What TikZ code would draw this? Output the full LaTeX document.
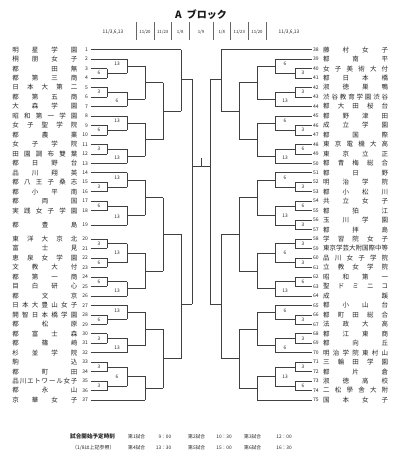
\documentclass[tikz,border=0pt]{standalone}
\usepackage{fontspec}
\setmainfont{Noto Sans CJK JP}
\newcommand\sprA[1]{\ifx#1\relax\else#1\expandafter\sprB\fi}
\newcommand\sprB[1]{\ifx#1\relax\else\hfill#1\expandafter\sprB\fi}
\newcommand\spr[1]{\sprA#1\relax}
\newcount\lbn
\tikzset{
 br/.style={draw=black!75, line width=0.5pt},
 nm/.style={inner sep=0pt, font=\fontsize{6.5}{7}\selectfont, text=black!85},
 no/.style={inner sep=0pt, font=\fontsize{5}{6}\selectfont, text=black!85},
 lab/.style={inner sep=0pt, font=\fontsize{4.8}{5}\selectfont, text=black!85},
 dt/.style={inner sep=0pt, font=\fontsize{4.3}{5}\selectfont, text=black!85},
 ft/.style={inner sep=0pt, font=\fontsize{4.8}{5}\selectfont, text=black!85, anchor=west},
}
\newcommand\tL[4]{%
 \node[no,anchor=east] (nL#1) at (88,{ry(#2)}) {#1};
 \node[nm,anchor=west] (tL#1) at (12.3,{ry(#2)}) {\hbox to 65pt{\spr{#4}}};
 \draw[br] (90.5,{ry(#2)}) -- (#3,{ry(#2)});
}
\newcommand\tR[4]{%
 \node[no,anchor=west] (nR#1) at (313,{ry(#2)}) {#1};
 \node[nm,anchor=west] (tR#1) at (323,{ry(#2)}) {\hbox to 65pt{\spr{#4}}};
 \draw[br] (311.5,{ry(#2)}) -- (#3,{ry(#2)});
}
\newcommand\mt[5]{\draw[br] (#1,{ry(#2)}) -- (#1,{ry(#3)}) (#1,{ry(#4)}) -- (#5,{ry(#4)});}
\begin{document}
\begin{tikzpicture}[x=1pt,y=-1pt,declare function={ry(\r)=49.6+9.47*\r;}]
\path[use as bounding box, fill=white] (0,0) rectangle (400,471);
% title and header
\node[inner sep=0pt, font=\bfseries\fontsize{10}{11}\selectfont, text=black!90] (title) at (201,15) {A\hspace{5pt}ブロック};
\foreach \x [count=\i] in {136,154,171.5,189,213,230.5,248,266}
  \draw[black!60, line width=0.4pt] (\x,22) -- (\x,40);
\node[dt, font=\fontsize{4.8}{5}\selectfont] (dL0) at (113,31.7) {11/3,6,13};
\node[dt] (dL3) at (145,31.7) {11/20};
\node[dt] (dL4) at (162.7,31.7) {11/23};
\node[dt] (dL5) at (180.2,31.7) {1/8};
\node[dt] (dC) at (201,31.7) {1/9};
\node[dt] (dR5) at (221.8,31.7) {1/8};
\node[dt] (dR4) at (239.3,31.7) {11/23};
\node[dt] (dR3) at (257,31.7) {11/20};
\node[dt, font=\fontsize{4.8}{5}\selectfont] (dR0) at (289,31.7) {11/3,6,13};
% left teams
\tL{1}{0}{181}{明星学園}
\tL{2}{1}{127}{桐朋女子}
\tL{3}{2}{107}{都　田無}
\tL{4}{3}{107}{都第三商}
\tL{5}{4}{107}{日本大第二}
\tL{6}{5}{107}{都第五商}
\tL{7}{6}{127}{大森学園}
\tL{8}{7}{127}{昭和第一学園}
\tL{9}{8}{107}{女子聖学院}
\tL{10}{9}{107}{都農業}
\tL{11}{10}{107}{女子学院}
\tL{12}{11}{107}{田園調布雙葉}
\tL{13}{12}{127}{都日野台}
\tL{14}{13}{127}{品川翔英}
\tL{15}{14}{107}{都八王子桑志}
\tL{16}{15}{107}{都小平南}
\tL{17}{16}{107}{都両国}
\tL{18}{17}{107}{実践女子学園}
\tL{19}{18.5}{127}{都豊島}
\tL{20}{20}{107}{東洋大京北}
\tL{21}{21}{107}{富士見}
\tL{22}{22}{107}{恵泉女学園}
\tL{23}{23}{107}{文教大付}
\tL{24}{24}{107}{都第一商}
\tL{25}{25}{107}{目白研心}
\tL{26}{26}{127}{都文京}
\tL{27}{27}{127}{日本大豊山女子}
\tL{28}{28}{107}{開智日本橋学園}
\tL{29}{29}{107}{都松原}
\tL{30}{30}{107}{都富士森}
\tL{31}{31}{107}{都篠崎}
\tL{32}{32}{127}{杉並学院}
\tL{33}{33}{107}{駒込}
\tL{34}{34}{107}{都町田}
\tL{35}{35}{107}{品川エトワール女子}
\tL{36}{36}{107}{都永山}
\tL{37}{37}{145}{京華女子}
% right teams
\tR{38}{0}{221}{藤村女子}
\tR{39}{1}{275}{都南平}
\tR{40}{2}{295}{女子美術大付}
\tR{41}{3}{295}{都日本橋}
\tR{42}{4}{295}{淑徳巣鴨}
\tR{43}{5}{295}{渋谷教育学園渋谷}
\tR{44}{6}{275}{都大田桜台}
\tR{45}{7}{275}{都野津田}
\tR{46}{8}{295}{成立学園}
\tR{47}{9}{295}{都国際}
\tR{48}{10}{295}{東京電機大高}
\tR{49}{11}{295}{東京立正}
\tR{50}{12}{275}{都青梅総合}
\tR{51}{13}{275}{都日野}
\tR{52}{14}{295}{明治学院}
\tR{53}{15}{295}{都小松川}
\tR{54}{16}{295}{共立女子}
\tR{55}{17}{295}{都狛江}
\tR{56}{18}{295}{玉川学園}
\tR{57}{19}{295}{都拝島}
\tR{58}{20}{295}{学習院女子}
\tR{59}{21}{295}{東京学芸大附国際中等}
\tR{60}{22}{295}{品川女子学院}
\tR{61}{23}{295}{立教女学院}
\tR{62}{24}{295}{昭和第一}
\tR{63}{25}{295}{聖ドミニコ}
\tR{64}{26}{275}{成蹊}
\tR{65}{27}{275}{都小山台}
\tR{66}{28}{295}{都町田総合}
\tR{67}{29}{295}{法政大高}
\tR{68}{30}{295}{都江東商}
\tR{69}{31}{295}{都向丘}
\tR{70}{32}{275}{明治学院東村山}
\tR{71}{33}{295}{三輪田学園}
\tR{72}{34}{295}{都片倉}
\tR{73}{35}{295}{淑徳高校}
\tR{74}{36}{295}{二松學舎大附}
\tR{75}{37}{257}{国本女子}
% left matches
\mt{107}{2}{3}{2.5}{127}
\mt{127}{1}{2.5}{1.75}{145}
\mt{107}{4}{5}{4.5}{127}
\mt{127}{4.5}{6}{5.25}{145}
\mt{145}{1.75}{5.25}{3.5}{163}
\mt{107}{8}{9}{8.5}{127}
\mt{127}{7}{8.5}{7.75}{145}
\mt{107}{10}{11}{10.5}{127}
\mt{127}{10.5}{12}{11.25}{145}
\mt{145}{7.75}{11.25}{9.5}{163}
\mt{163}{3.5}{9.5}{6.5}{181}
\mt{181}{0}{6.5}{3.1}{192}
\mt{107}{14}{15}{14.5}{127}
\mt{127}{13}{14.5}{13.75}{145}
\mt{107}{16}{17}{16.5}{127}
\mt{127}{16.5}{18.5}{17.5}{145}
\mt{145}{13.75}{17.5}{15.625}{163}
\mt{107}{20}{21}{20.5}{127}
\mt{107}{22}{23}{22.5}{127}
\mt{127}{20.5}{22.5}{21.5}{145}
\mt{107}{24}{25}{24.5}{127}
\mt{127}{24.5}{26}{25.25}{145}
\mt{145}{21.5}{25.25}{23.375}{163}
\mt{163}{15.625}{23.375}{19.5}{181}
\mt{107}{28}{29}{28.5}{127}
\mt{127}{27}{28.5}{27.75}{145}
\mt{107}{30}{31}{30.5}{127}
\mt{127}{30.5}{32}{31.25}{145}
\mt{145}{27.75}{31.25}{29.5}{163}
\mt{107}{33}{34}{33.5}{127}
\mt{107}{35}{36}{35.5}{127}
\mt{127}{33.5}{35.5}{34.5}{145}
\mt{145}{34.5}{37}{35.75}{163}
\mt{163}{29.5}{35.75}{32.625}{181}
\mt{181}{19.5}{32.625}{26.86}{192}
\mt{192}{3.1}{26.86}{12.37}{201}
% right matches
\mt{295}{2}{3}{2.5}{275}
\mt{275}{1}{2.5}{1.75}{257}
\mt{295}{4}{5}{4.5}{275}
\mt{275}{4.5}{6}{5.25}{257}
\mt{257}{1.75}{5.25}{3.5}{239}
\mt{295}{8}{9}{8.5}{275}
\mt{275}{7}{8.5}{7.75}{257}
\mt{295}{10}{11}{10.5}{275}
\mt{275}{10.5}{12}{11.25}{257}
\mt{257}{7.75}{11.25}{9.5}{239}
\mt{239}{3.5}{9.5}{6.5}{221}
\mt{221}{0}{6.5}{3.1}{210}
\mt{295}{14}{15}{14.5}{275}
\mt{275}{13}{14.5}{13.75}{257}
\mt{295}{16}{17}{16.5}{275}
\mt{295}{18}{19}{18.5}{275}
\mt{275}{16.5}{18.5}{17.5}{257}
\mt{257}{13.75}{17.5}{15.625}{239}
\mt{295}{20}{21}{20.5}{275}
\mt{295}{22}{23}{22.5}{275}
\mt{275}{20.5}{22.5}{21.5}{257}
\mt{295}{24}{25}{24.5}{275}
\mt{275}{24.5}{26}{25.25}{257}
\mt{257}{21.5}{25.25}{23.375}{239}
\mt{239}{15.625}{23.375}{19.5}{221}
\mt{295}{28}{29}{28.5}{275}
\mt{275}{27}{28.5}{27.75}{257}
\mt{295}{30}{31}{30.5}{275}
\mt{275}{30.5}{32}{31.25}{257}
\mt{257}{27.75}{31.25}{29.5}{239}
\mt{295}{33}{34}{33.5}{275}
\mt{295}{35}{36}{35.5}{275}
\mt{275}{33.5}{35.5}{34.5}{257}
\mt{257}{34.5}{37}{35.75}{239}
\mt{239}{29.5}{35.75}{32.625}{221}
\mt{221}{19.5}{32.625}{26.86}{210}
\mt{210}{3.1}{26.86}{12.37}{201}
% final tick
\coordinate (fin) at (201,{ry(12.37)});
\draw[br] (fin) -- ++(0,-8.5);
% left labels
\foreach \r/\t [count=\i] in {2.5/6,4.5/3,8.5/6,10.5/3,14.5/3,16.5/6,20.5/3,22.5/6,24.5/6,28.5/6,30.5/3,33.5/3,35.5/3}
  \node[lab] (la\i) at (99,{ry(\r)}) {\t};
\foreach \r/\t [count=\i] in {1.55/13,5.45/6,7.55/13,11.45/13,13.55/13,17.7/13,21.5/13,25.45/13,27.55/13,31.45/13,34.5/6}
  \node[lab] (lb\i) at (117,{ry(\r)}) {\t};
% right labels
\foreach \r/\t [count=\i] in {2.5/3,4.5/3,8.5/3,10.5/6,14.5/3,16.5/6,18.5/3,20.5/3,22.5/3,24.5/6,28.5/3,30.5/3,33.5/3,35.5/6}
  \node[lab] (ra\i) at (303,{ry(\r)}) {\t};
\foreach \r/\t [count=\i] in {1.55/6,5.45/13,7.55/6,11.45/13,13.55/6,17.5/13,21.5/6,25.45/13,27.55/6,31.45/6,34.5/13}
  \node[lab] (rb\i) at (285,{ry(\r)}) {\t};
% footer
\node[ft, font=\bfseries\fontsize{5.6}{6}\selectfont] (sch) at (70,436.7) {試合開始予定時刻};
\node[ft, font=\fontsize{5}{6}\selectfont] (ref) at (72,447.7) {（1/8は上記参照）};
\node[ft] (g1) at (128,436.7) {第1試合};
\node[ft, anchor=east] (t1) at (171.5,436.7) {9：00};
\node[ft] (g2) at (188,436.7) {第2試合};
\node[ft, anchor=east] (t2) at (232,436.7) {10：30};
\node[ft] (g3) at (244,436.7) {第3試合};
\node[ft, anchor=east] (t3) at (292,436.7) {12：00};
\node[ft] (g4) at (128,447.7) {第4試合};
\node[ft, anchor=east] (t4) at (171.5,447.7) {13：30};
\node[ft] (g5) at (188,447.7) {第5試合};
\node[ft, anchor=east] (t5) at (232,447.7) {15：00};
\node[ft] (g6) at (244,447.7) {第6試合};
\node[ft, anchor=east] (t6) at (292,447.7) {16：30};
\end{tikzpicture}
\end{document}
